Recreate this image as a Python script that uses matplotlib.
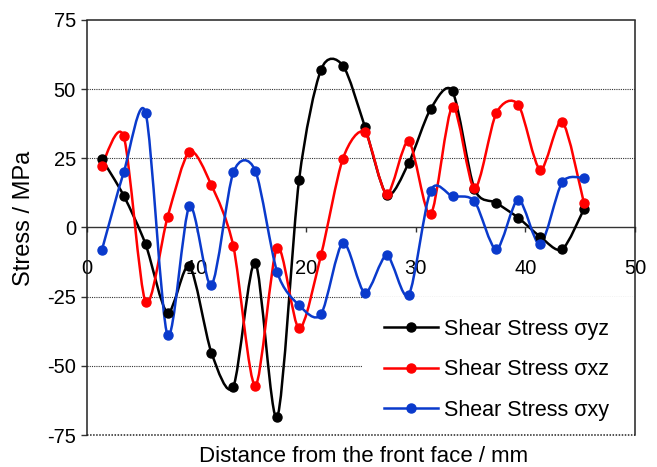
import matplotlib
matplotlib.use("Agg")
import matplotlib.pyplot as plt
from matplotlib.path import Path
from matplotlib.patches import PathPatch, Rectangle
from matplotlib.lines import Line2D
import numpy as np

plt.rcParams['font.family'] = ['Liberation Sans', 'DejaVu Sans']
plt.rcParams['axes.unicode_minus'] = False

# measurement positions along the sample (mm)
distance = [1.35, 3.35, 5.35, 7.35, 9.35, 11.35, 13.35, 15.35, 17.35, 19.35,
            21.35, 23.35, 25.35, 27.35, 29.35, 31.35, 33.35, 35.35, 37.35,
            39.35, 41.35, 43.35, 45.35]

# shear stress components (MPa)
sigma_yz = [24.8, 11.5, -6.1, -30.8, -13.9, -45.2, -57.5, -12.7, -68.6, 17.2,
            57.0, 58.5, 36.5, 11.9, 23.3, 42.8, 49.2, 14.0, 8.9,
            3.5, -3.3, -7.9, 6.7]
sigma_xz = [22.4, 32.9, -26.9, 3.7, 27.4, 15.3, -6.7, -57.2, -7.3, -36.5,
            -10.0, 24.9, 34.4, 12.1, 31.1, 4.7, 43.7, 14.1, 41.4,
            44.4, 20.9, 38.3, 8.7]
sigma_xy = [-8.3, 19.9, 41.4, -38.9, 7.7, -20.8, 19.9, 20.6, -16.1, -28.1,
            -31.4, -5.5, -23.6, -10.1, -24.4, 13.3, 11.3, 9.5, -7.9,
            10.1, -6.1, 16.3, 17.9]

series = [
    ("Shear Stress \u03c3yz", sigma_yz, "#000000"),
    ("Shear Stress \u03c3xz", sigma_xz, "#ff0000"),
    ("Shear Stress \u03c3xy", sigma_xy, "#0a3acc"),
]

SMOOTH = 0.14  # tangent scale for the smoothed line


def smooth_path(x, y, k=SMOOTH):
    """Cubic Bezier path through the points (Catmull-Rom style smoothing)."""
    pts = np.column_stack([x, y]).astype(float)
    n = len(pts)
    verts = [pts[0]]
    codes = [Path.MOVETO]
    for i in range(n - 1):
        p0 = pts[i - 1] if i > 0 else pts[i]
        p1 = pts[i]
        p2 = pts[i + 1]
        p3 = pts[i + 2] if i + 2 < n else pts[i + 1]
        c1 = p1 + (p2 - p0) * k
        c2 = p2 - (p3 - p1) * k
        verts += [c1, c2, p2]
        codes += [Path.CURVE4] * 3
    return Path(verts, codes)


fig = plt.figure(figsize=(6.57, 4.67), dpi=100)
ax = fig.add_axes([0.1324, 0.0685, 0.8341, 0.8887])

ax.set_xlim(0, 50)
ax.set_ylim(-75, 75)

# dotted grid lines
for yv in [50, 25, -25, -50]:
    ax.axhline(yv, color="#333333", linestyle=(0, (1, 1)), linewidth=0.8, zorder=0.5)

# dotted frame, solid zero axis
for side in ["left", "top", "right"]:
    ax.spines[side].set_linestyle((0, (1, 1)))
    ax.spines[side].set_linewidth(1.1)
    ax.spines[side].set_color("#222222")
ax.spines["bottom"].set_position(("data", 0))
ax.spines["bottom"].set_color("#333333")
ax.spines["bottom"].set_linewidth(1.0)
ax.spines["bottom"].set_zorder(0.6)
ax.axhline(-75, color="#222222", linestyle=(0, (1, 1)), linewidth=1.1, clip_on=False)

ax.set_xticks([0, 10, 20, 30, 40, 50])
ax.set_yticks([-75, -50, -25, 0, 25, 50, 75])
ax.tick_params(axis="x", direction="out", length=3.5, width=1, color="#333333",
               pad=19, labelsize=14.5)
ax.tick_params(axis="y", direction="out", length=4, width=1, color="#333333",
               pad=4, labelsize=14.5)

# white panel behind the legend
ax.add_patch(Rectangle((0.504, 0.0), 0.496, 0.333, transform=ax.transAxes,
                       facecolor="white", edgecolor="none", zorder=0.8))

handles = []
for label, values, color in series:
    ax.add_patch(PathPatch(smooth_path(distance, values), facecolor="none",
                           edgecolor=color, linewidth=1.8, zorder=2))
    ax.plot(distance, values, linestyle="none", marker="o", markersize=6.5,
            color=color, zorder=3)
    handles.append(Line2D([], [], color=color, linewidth=1.8, marker="o",
                          markersize=6.5, label=label))

ax.legend(handles=handles, loc="center left", bbox_to_anchor=(0.542, 0.157),
          frameon=False, fontsize=15.5, handlelength=2.5, handletextpad=0.3,
          labelspacing=0.91, borderpad=0, borderaxespad=0)

fig.text(364 / 657, 1 - 462 / 467, "Distance from the front face / mm",
         fontsize=16, ha="center", va="baseline")
fig.text(24 / 657, 1 - 218 / 467, "Stress / MPa", fontsize=17,
         rotation=90, ha="center", va="center")

fig.savefig("out.png", dpi=100)
